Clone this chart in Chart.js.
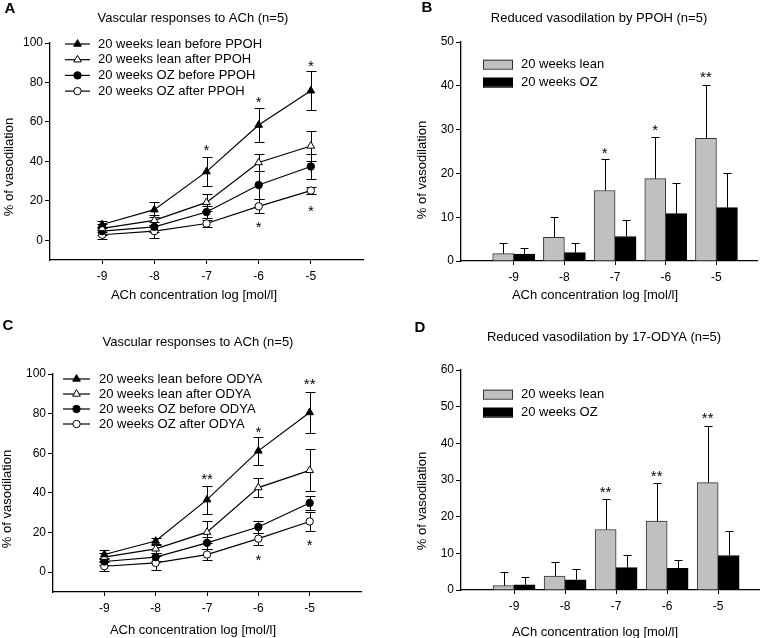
<!DOCTYPE html>
<html>
<head>
<meta charset="utf-8">
<script src="https://cdn.jsdelivr.net/npm/chart.js@4.4.1/dist/chart.umd.min.js"></script>
<style>
  html, body { margin: 0; padding: 0; background: #fff; overflow: hidden; }
  #wrap { position: relative; width: 769px; height: 638px; }
  canvas { position: absolute; left: 0; top: 0; }
</style>
</head>
<body>
<div id="wrap">
  <canvas id="chartA" width="769" height="638"></canvas>
  <canvas id="chartB" width="769" height="638"></canvas>
  <canvas id="chartC" width="769" height="638"></canvas>
  <canvas id="chartD" width="769" height="638"></canvas>
</div>
<script>
// ACh concentration (log mol/l)
const concentrations = [-9, -8, -7, -6, -5];
const xTickLabels = ["-9", "-8", "-7", "-6", "-5"];

// panel A - PPOH, % of vasodilation (mean, SEM)
const leanBeforePPOH = [8, 15.5, 34.8, 58.4, 75.8];
const leanBeforePPOHErr = [2, 3.7, 7.3, 8.6, 10];
const leanAfterPPOH = [6, 10.1, 19.2, 39.4, 47.8];
const leanAfterPPOHErr = [2, 2.5, 4.2, 4.5, 7.6];
const ozBeforePPOH = [4.6, 6.8, 14.3, 28, 37.4];
const ozBeforePPOHErr = [2, 2.5, 3, 7, 6.5];
const ozAfterPPOH = [2.8, 4.6, 8.5, 17.2, 25.2];
const ozAfterPPOHErr = [2.4, 3.2, 2, 3.6, 1.6];
const yTicksA = [0, 20, 40, 60, 80, 100];
const starsA = [
  { i: 2, ds: 0, y: 47, t: "*" }, { i: 3, ds: 0, y: 71.4, t: "*" }, { i: 4, ds: 0, y: 89.6, t: "*" },
  { i: 3, ds: 0, y: 7.9, t: "*" }, { i: 4, ds: 0, y: 16.3, t: "*" }
];

// panel B - reduction by PPOH
const leanReducedPPOH = [1.7, 5.4, 16.1, 18.8, 28];
const leanReducedPPOHErr = [2.5, 4.7, 7.1, 9.4, 12.1];
const ozReducedPPOH = [1.6, 1.9, 5.6, 10.8, 12.2];
const ozReducedPPOHErr = [1.3, 2.3, 3.7, 7.1, 7.9];
const yTicksB = [0, 10, 20, 30, 40, 50];
const starsB = [
  { i: 2, ds: 0, y: 25.3, t: "*" }, { i: 3, ds: 0, y: 30.5, t: "*" }, { i: 4, ds: 0, y: 42.6, t: "**" }
];

// panel C - ODYA
const leanBeforeODYA = [8.9, 15.7, 36.6, 61.2, 80.6];
const leanBeforeODYAErr = [2.4, 1.5, 7, 7.1, 10.3];
const leanAfterODYA = [7.6, 11.8, 20.2, 42.7, 51.4];
const leanAfterODYAErr = [2, 2, 5.6, 4.9, 10.6];
const ozBeforeODYA = [5.4, 7.6, 14.8, 22.8, 34.9];
const ozBeforeODYAErr = [2, 2, 3, 3, 3.5];
const ozAfterODYA = [3, 4.7, 8.9, 16.9, 25.6];
const ozAfterODYAErr = [2.2, 3.5, 2.7, 3.1, 4.6];
const yTicksC = [0, 20, 40, 60, 80, 100];
const starsC = [
  { i: 2, ds: 0, y: 48.1, t: "**" }, { i: 3, ds: 0, y: 72, t: "*" }, { i: 4, ds: 0, y: 96.5, t: "**" },
  { i: 3, ds: 0, y: 7.6, t: "*" }, { i: 4, ds: 0, y: 14.8, t: "*" }
];

// panel D - reduction by 17-ODYA
const leanReducedODYA = [1.2, 3.8, 16.5, 18.8, 29.3];
const leanReducedODYAErr = [3.6, 3.9, 8.2, 10.5, 15.5];
const ozReducedODYA = [1.4, 2.8, 6.1, 5.9, 9.4];
const ozReducedODYAErr = [2.2, 2.8, 3.4, 2.3, 6.8];
const yTicksD = [0, 10, 20, 30, 40, 50, 60];
const starsD = [
  { i: 2, ds: 0, y: 27.5, t: "**" }, { i: 3, ds: 0, y: 31.8, t: "**" }, { i: 4, ds: 0, y: 47.7, t: "**" }
];

const FONT = '"Liberation Sans", Arial, Helvetica, sans-serif';
const W = 769, H = 638;
const Y_AXIS_W = 40, X_AXIS_H = 30;

Chart.defaults.font.family = FONT;
Chart.defaults.font.size = 12;
Chart.defaults.color = "#000";

function drawMarker(ctx, style, x, y, r, fill) {
  ctx.beginPath();
  if (style === "triangle") {
    for (let k = 0; k < 3; k++) {
      const a = k * 2 * Math.PI / 3;
      ctx.lineTo(x + Math.sin(a) * r, y - Math.cos(a) * r);
    }
    ctx.closePath();
  } else {
    ctx.arc(x, y, r, 0, Math.PI * 2);
  }
  ctx.fillStyle = fill;
  ctx.fill();
  ctx.lineWidth = 1;
  ctx.strokeStyle = "#000";
  ctx.stroke();
}

// mean +/- SEM whiskers, bars only get the upper half
function drawErrors(chart, upOnly, cap) {
  const ctx = chart.ctx;
  const yScale = chart.scales.y;
  ctx.save();
  ctx.strokeStyle = "#000";
  ctx.lineWidth = 1;
  chart.data.datasets.forEach((ds, di) => {
    const meta = chart.getDatasetMeta(di);
    meta.data.forEach((el, i) => {
      const v = ds.data[i].y, e = ds.errors[i];
      const x = Math.round(el.x) + 0.5;
      const top = Math.round(yScale.getPixelForValue(v + e)) + 0.5;
      const bot = upOnly ? el.y : Math.round(yScale.getPixelForValue(v - e)) + 0.5;
      ctx.beginPath();
      ctx.moveTo(x, bot); ctx.lineTo(x, top);
      ctx.moveTo(x - cap, top); ctx.lineTo(x + cap, top);
      if (!upOnly) { ctx.moveTo(x - cap, bot); ctx.lineTo(x + cap, bot); }
      ctx.stroke();
    });
  });
  ctx.restore();
}

const errorBars = {
  id: "errorBars",
  beforeDatasetsDraw(chart) { if (chart.config.type === "line") drawErrors(chart, false, 5); },
  afterDatasetsDraw(chart) { if (chart.config.type === "bar") drawErrors(chart, true, 4); }
};

function starPlugin(stars) {
  return {
    id: "stars",
    afterDatasetsDraw(chart) {
      const ctx = chart.ctx;
      ctx.save();
      ctx.font = "15px " + FONT;
      ctx.fillStyle = "#000";
      ctx.textAlign = "center";
      ctx.textBaseline = "middle";
      stars.forEach(s => {
        const el = chart.getDatasetMeta(s.ds).data[s.i];
        ctx.fillText(s.t, el.x, chart.scales.y.getPixelForValue(s.y) + 3.5);
      });
      ctx.restore();
    }
  };
}

function textPlugin(items) {
  return {
    id: "panelText",
    afterDraw(chart) {
      const ctx = chart.ctx;
      items.forEach(it => {
        ctx.save();
        ctx.font = it.font || "13px " + FONT;
        ctx.fillStyle = "#000";
        ctx.textAlign = "center";
        ctx.textBaseline = "middle";
        ctx.translate(it.x, it.y);
        if (it.rot) ctx.rotate(it.rot);
        ctx.fillText(it.text, 0, 0);
        ctx.restore();
      });
    }
  };
}

function legendPlugin(pos) {
  return {
    id: "panelLegend",
    afterDraw(chart) {
      const ctx = chart.ctx;
      ctx.save();
      chart.data.datasets.forEach((ds, i) => {
        const y = pos.y + i * pos.gap;
        if (pos.kind === "line") {
          ctx.strokeStyle = "#000";
          ctx.lineWidth = 1.2;
          ctx.beginPath();
          ctx.moveTo(pos.x, y); ctx.lineTo(pos.x + pos.len, y);
          ctx.stroke();
          drawMarker(ctx, ds.pointStyle, pos.x + pos.len / 2, y, ds.pointRadius, ds.pointBackgroundColor);
        } else {
          ctx.fillStyle = ds.backgroundColor;
          ctx.fillRect(pos.x, y - 4.5, 30, 9);
          ctx.strokeStyle = ds.borderColor;
          ctx.lineWidth = 1;
          ctx.strokeRect(pos.x + 0.5, y - 4, 29, 9);
        }
        ctx.fillStyle = "#000";
        ctx.font = "13px " + FONT;
        ctx.textAlign = "left";
        ctx.textBaseline = "middle";
        ctx.fillText(ds.label, pos.textX, y);
      });
      ctx.restore();
    }
  };
}

function scales(area, xMin, xMax, yMin, yMax, yTicks) {
  const axisGrid = { display: true, drawOnChartArea: false, drawTicks: true, color: "#000", lineWidth: 1, offset: false };
  return {
    x: {
      type: "linear", min: xMin, max: xMax, offset: false,
      afterBuildTicks: s => { s.ticks = concentrations.map(v => ({ value: v })); },
      afterFit: s => { s.height = X_AXIS_H; },
      grid: Object.assign({ tickLength: 4 }, axisGrid),
      border: { display: true, color: "#000", width: 1.3 },
      ticks: { padding: 5, maxRotation: 0, autoSkip: false, font: { size: 12 },
        callback: v => xTickLabels[concentrations.indexOf(v)] }
    },
    y: {
      type: "linear", min: yMin, max: yMax,
      afterBuildTicks: s => { s.ticks = yTicks.map(v => ({ value: v })); },
      afterFit: s => { s.width = Y_AXIS_W; },
      grid: Object.assign({ tickLength: 5 }, axisGrid),
      border: { display: true, color: "#000", width: 1.3 },
      ticks: { padding: 2, font: { size: 12 }, callback: v => String(v) }
    }
  };
}

function layoutFor(area) {
  return { padding: { left: area.l - Y_AXIS_W, top: area.t, right: W - area.r, bottom: H - area.b - X_AXIS_H } };
}

function lineDs(label, ys, errs, style, fill) {
  return {
    label,
    data: concentrations.map((x, i) => ({ x, y: ys[i] })),
    errors: errs,
    borderColor: "#000", borderWidth: 1.2, tension: 0, fill: false,
    pointStyle: style, pointRadius: style === "triangle" ? 4.4 : 3.7,
    pointBackgroundColor: fill, pointBorderColor: "#000", pointBorderWidth: 1
  };
}

function barDs(label, ys, errs, color, border) {
  return {
    label,
    data: concentrations.map((x, i) => ({ x, y: ys[i] })),
    errors: errs,
    backgroundColor: color, borderColor: border, borderWidth: 1,
    barThickness: 21
  };
}

function lineChart(id, area, datasets, yTicks, stars, texts, legend) {
  return new Chart(document.getElementById(id), {
    type: "line",
    data: { datasets },
    options: {
      responsive: false, animation: false, devicePixelRatio: 1,
      layout: layoutFor(area),
      scales: scales(area, -10, -4, -10, 100, yTicks),
      plugins: { legend: { display: false }, tooltip: { enabled: false } }
    },
    plugins: [errorBars, starPlugin(stars), textPlugin(texts), legendPlugin(legend)]
  });
}

function barChart(id, area, datasets, yMax, yTicks, stars, texts, legend) {
  return new Chart(document.getElementById(id), {
    type: "bar",
    data: { datasets },
    options: {
      responsive: false, animation: false, devicePixelRatio: 1,
      layout: layoutFor(area),
      scales: scales(area, -10.04, -4.2, 0, yMax, yTicks),
      plugins: { legend: { display: false }, tooltip: { enabled: false } }
    },
    plugins: [errorBars, starPlugin(stars), textPlugin(texts), legendPlugin(legend)]
  });
}

const BOLD = "bold 15px " + FONT;
const UP = -Math.PI / 2;
const xTitle = "ACh concentration log [mol/l]";
const yTitle = "% of vasodilation";

lineChart("chartA", { l: 50, t: 43, r: 363, b: 260 }, [
  lineDs("20 weeks lean before PPOH", leanBeforePPOH, leanBeforePPOHErr, "triangle", "#000"),
  lineDs("20 weeks lean after PPOH", leanAfterPPOH, leanAfterPPOHErr, "triangle", "#fff"),
  lineDs("20 weeks OZ before PPOH", ozBeforePPOH, ozBeforePPOHErr, "circle", "#000"),
  lineDs("20 weeks OZ after PPOH", ozAfterPPOH, ozAfterPPOHErr, "circle", "#fff")
], yTicksA, starsA, [
  { text: "A", x: 10, y: 9, font: BOLD },
  { text: "Vascular responses to ACh (n=5)", x: 193, y: 18 },
  { text: xTitle, x: 194, y: 295 },
  { text: yTitle, x: 9, y: 167, rot: UP }
], { kind: "line", x: 65, len: 25, textX: 98, y: 44, gap: 15.7 });

barChart("chartB", { l: 461, t: 42, r: 757, b: 261 }, [
  barDs("20 weeks lean", leanReducedPPOH, leanReducedPPOHErr, "#c0c0c0", "#333"),
  barDs("20 weeks OZ", ozReducedPPOH, ozReducedPPOHErr, "#000", "#000")
], 50, yTicksB, starsB, [
  { text: "B", x: 427, y: 8, font: BOLD },
  { text: "Reduced vasodilation by PPOH (n=5)", x: 599, y: 18 },
  { text: xTitle, x: 595, y: 295 },
  { text: yTitle, x: 422, y: 170, rot: UP }
], { kind: "box", x: 483, textX: 521, y: 64.2, gap: 18 });

lineChart("chartC", { l: 53, t: 374, r: 361, b: 592 }, [
  lineDs("20 weeks lean before ODYA", leanBeforeODYA, leanBeforeODYAErr, "triangle", "#000"),
  lineDs("20 weeks lean after ODYA", leanAfterODYA, leanAfterODYAErr, "triangle", "#fff"),
  lineDs("20 weeks OZ before ODYA", ozBeforeODYA, ozBeforeODYAErr, "circle", "#000"),
  lineDs("20 weeks OZ after ODYA", ozAfterODYA, ozAfterODYAErr, "circle", "#fff")
], yTicksC, starsC, [
  { text: "C", x: 8, y: 326, font: BOLD },
  { text: "Vascular responses to ACh (n=5)", x: 198, y: 342 },
  { text: xTitle, x: 193, y: 630 },
  { text: yTitle, x: 7, y: 499, rot: UP }
], { kind: "line", x: 63, len: 27, textX: 99, y: 379, gap: 15 });

barChart("chartD", { l: 461, t: 370, r: 759, b: 590 }, [
  barDs("20 weeks lean", leanReducedODYA, leanReducedODYAErr, "#c0c0c0", "#333"),
  barDs("20 weeks OZ", ozReducedODYA, ozReducedODYAErr, "#000", "#000")
], 60, yTicksD, starsD, [
  { text: "D", x: 420, y: 328, font: BOLD },
  { text: "Reduced vasodilation by 17-ODYA (n=5)", x: 604, y: 337 },
  { text: xTitle, x: 595, y: 632 },
  { text: yTitle, x: 422, y: 501, rot: UP }
], { kind: "box", x: 483, textX: 521, y: 394.2, gap: 18 });
</script>
</body>
</html>
